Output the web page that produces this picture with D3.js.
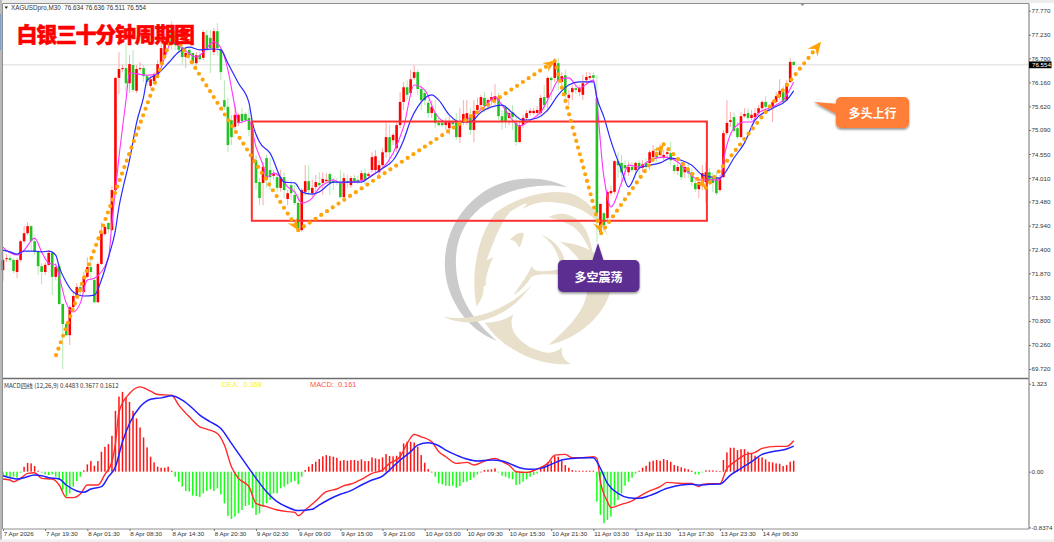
<!DOCTYPE html>
<html lang="zh">
<head>
<meta charset="utf-8">
<style>
html,body{margin:0;padding:0;background:#fff;overflow:hidden}
svg{display:block}
text{font-family:"Liberation Sans",Arial,sans-serif}
.cjk{font-family:"Noto Sans CJK SC","Noto Sans",sans-serif}
</style>
<script src="https://cdn.jsdelivr.net/npm/d3@7/dist/d3.min.js"></script>
</head>
<body>
<svg id="c" width="1054" height="542"></svg>
<script>
const opens=[71.94,72.19,72.21,72.17,71.90,72.17,72.59,72.77,72.93,72.59,
72.35,72.03,71.90,72.06,72.33,71.79,72.03,71.18,70.73,70.48,
71.11,71.34,71.56,71.45,71.79,72.01,71.72,71.22,72.08,72.75,
73.00,72.84,73.74,76.26,76.46,76.48,76.14,76.55,75.97,76.46,
76.48,76.30,76.08,76.19,76.30,76.57,76.75,77.02,77.38,77.22,
77.00,76.95,76.73,76.89,76.82,76.59,76.77,76.71,77.22,77.16,
76.84,77.31,76.89,75.76,75.61,75.31,75.16,75.25,75.45,75.45,
75.36,75.09,74.41,73.92,73.90,74.46,74.19,74.06,74.03,73.79,
74.03,73.54,73.85,73.63,73.45,72.84,73.70,73.94,73.67,73.81,
73.90,73.90,73.94,74.10,73.94,73.94,73.90,73.58,73.94,73.85,
74.01,73.97,73.97,74.12,74.06,74.19,74.19,74.14,74.30,74.59,
74.93,74.86,74.68,75.20,75.72,76.05,75.92,76.26,76.39,76.01,
75.92,75.70,75.47,75.47,75.25,75.25,75.20,75.13,75.29,75.27,
74.93,75.27,75.31,75.43,75.09,75.54,75.65,75.81,75.63,75.76,
75.76,75.83,75.40,75.61,75.36,75.49,75.25,74.82,75.20,75.36,
75.47,75.47,75.47,75.47,75.83,75.81,76.26,76.26,76.59,76.17,
76.32,75.81,75.94,76.03,75.94,75.88,76.21,76.26,76.32,75.81,
72.80,73.22,73.11,73.67,73.70,74.39,74.35,74.30,74.14,74.26,
74.19,74.35,74.24,74.35,74.35,74.48,74.59,74.53,74.46,74.55,
74.57,74.30,74.17,74.30,74.14,74.24,74.14,73.90,73.76,73.92,
73.92,74.14,74.01,74.01,73.74,74.03,75.02,75.27,75.38,75.13,
74.93,75.40,75.47,75.36,75.38,75.47,75.58,75.72,75.63,75.61,
75.72,75.83,75.94,75.76,76.17,76.62];
const closes=[72.17,72.21,72.17,71.92,72.17,72.59,72.77,72.93,72.59,72.35,
72.03,71.90,72.06,72.33,71.79,72.01,71.18,70.73,70.48,71.11,
71.36,71.56,71.47,71.79,72.01,71.90,71.22,72.08,72.77,72.91,
72.86,73.74,76.26,76.46,76.48,76.14,76.57,75.99,76.46,76.48,
76.30,76.17,76.23,76.32,76.57,76.93,77.07,77.29,77.07,77.00,
76.89,76.73,76.82,76.77,76.59,76.77,76.68,77.29,76.91,76.93,
77.31,76.93,76.39,75.61,74.75,74.93,75.43,75.43,75.29,75.31,
75.09,74.41,73.90,73.56,74.26,73.97,74.03,74.10,73.79,74.03,
73.74,73.67,73.67,73.45,72.84,73.74,73.94,73.74,73.79,73.92,
73.85,73.99,73.97,73.90,73.90,73.92,73.58,74.01,73.90,74.01,
73.94,73.92,74.12,73.97,74.10,74.48,74.50,74.30,74.59,74.93,
74.59,74.98,75.20,75.72,76.05,75.88,76.23,76.39,76.01,75.76,
75.76,75.47,75.61,75.25,75.20,75.20,75.27,75.27,75.22,74.93,
75.27,75.45,75.47,75.09,75.52,75.65,75.83,75.63,75.76,75.83,
75.85,75.40,75.27,75.27,75.47,75.38,74.82,75.20,75.36,75.47,
75.52,75.52,75.54,75.81,75.65,76.26,76.21,76.64,76.21,76.30,
75.88,75.88,76.03,75.99,76.03,76.14,76.28,76.30,76.26,73.22,
73.43,72.95,73.70,73.72,74.39,74.30,74.14,74.23,74.26,74.19,
74.35,74.24,74.32,74.26,74.59,74.62,74.46,74.64,74.53,74.59,
74.41,74.17,74.26,74.03,74.26,74.12,73.92,73.76,73.92,74.12,
74.14,73.92,73.90,73.67,74.01,75.02,75.25,75.31,75.07,74.93,
75.40,75.45,75.36,75.43,75.47,75.58,75.72,75.61,75.58,75.72,
75.85,75.97,75.72,76.14,76.62,76.55];
const highs=[72.39,72.30,72.28,72.21,72.21,72.62,72.93,73.02,72.95,72.66,
72.39,72.10,72.12,72.39,72.35,72.10,72.08,71.20,70.75,71.16,
71.43,71.65,71.63,71.90,72.23,72.21,71.76,72.12,73.02,72.95,
73.02,73.83,76.28,76.84,76.55,77.04,76.77,76.89,76.55,76.62,
76.55,76.35,76.30,76.39,76.66,77.11,77.22,77.38,77.54,77.34,
77.07,77.00,76.93,76.93,76.82,76.84,76.84,77.34,77.34,77.34,
77.38,77.49,76.93,76.21,75.81,75.43,75.65,75.47,75.58,75.49,
75.58,75.13,74.53,74.01,74.37,74.53,74.46,74.19,74.14,74.19,
74.14,73.74,73.97,73.85,73.63,73.79,74.30,74.30,73.97,74.08,
74.14,74.14,74.12,74.14,74.01,74.01,74.19,74.12,74.08,74.06,
74.08,74.06,74.19,74.23,74.14,74.59,74.64,74.41,74.68,75.25,
75.22,75.02,75.25,75.94,76.17,76.21,76.44,76.55,76.44,76.10,
75.99,75.76,75.76,75.76,75.36,75.31,75.36,75.40,75.36,75.47,
75.58,75.76,75.76,75.58,75.76,75.81,75.88,75.94,75.81,75.94,
76.12,75.92,75.54,75.65,75.58,75.65,75.43,75.27,75.43,75.54,
75.58,75.58,75.63,75.88,76.10,76.30,76.30,76.71,76.71,76.39,
76.44,75.99,76.10,76.10,76.10,76.32,76.39,76.39,76.39,76.32,
73.43,73.25,73.74,73.83,74.41,74.59,74.53,74.41,74.37,74.37,
74.37,74.41,74.41,74.46,74.64,74.75,74.71,74.77,74.64,74.68,
74.82,74.35,74.37,74.41,74.37,74.35,74.23,73.97,74.01,74.30,
74.37,74.23,74.14,74.14,74.08,75.09,75.76,75.49,75.49,75.27,
75.49,75.58,75.58,75.54,75.58,75.65,75.76,75.85,75.67,75.76,
75.94,76.23,76.08,76.21,76.71,76.64];
const lows=[71.70,72.12,72.12,71.87,71.76,72.12,72.55,72.73,72.39,72.28,
71.83,71.62,71.83,72.03,71.38,71.72,71.16,69.72,70.46,70.26,
71.09,71.31,71.38,71.45,71.76,71.76,71.20,71.20,72.06,72.71,
72.77,72.84,73.72,75.90,76.39,75.92,75.92,75.94,75.92,76.41,
76.17,76.08,76.03,76.14,76.26,76.53,76.75,77.02,76.89,76.89,
76.82,76.55,76.48,76.66,76.55,76.55,76.62,76.66,76.84,76.37,
76.77,76.77,76.21,75.54,74.59,74.75,75.09,75.18,75.22,75.27,
74.95,74.30,73.74,73.40,73.40,73.79,73.74,73.97,73.70,73.70,
73.56,73.40,73.52,73.40,72.80,72.80,73.63,73.63,73.58,73.63,
73.74,73.63,73.90,73.63,73.74,73.85,73.56,73.56,73.79,73.79,
73.90,73.88,73.92,73.88,74.01,74.14,74.14,74.08,74.23,74.46,
74.30,74.75,74.59,75.13,75.54,75.76,75.83,76.21,75.88,75.54,
75.65,75.36,75.36,75.13,75.16,75.16,75.09,74.98,75.13,74.86,
74.80,75.20,75.20,74.98,74.82,75.47,75.54,75.49,75.54,75.65,
75.65,75.31,75.09,75.13,75.20,75.09,74.73,74.80,75.13,75.31,
75.40,75.43,75.43,75.43,75.54,75.49,75.76,76.17,75.99,75.99,
75.70,75.65,75.76,75.90,75.85,75.76,76.10,76.21,76.17,72.57,
72.73,72.80,73.07,73.61,73.65,74.01,73.85,73.97,74.06,74.14,
74.08,74.01,74.14,74.19,74.19,74.41,74.37,74.46,74.41,74.48,
74.30,74.10,74.08,73.97,74.01,74.01,73.83,73.70,73.56,73.74,
73.47,73.85,73.70,73.63,73.70,74.01,74.98,75.16,75.02,74.89,
74.91,75.36,75.31,75.31,75.31,75.40,75.49,75.54,75.49,75.27,
75.67,75.76,75.67,75.72,76.14,76.53];

const maSlowBars=[0,2,4,6,9,11,13,15,16,18,20,23,26,28,30,32,33,34,36,38,40,41,44,47,50,53,56,60,62,64,67,70,71,73,76,80,83,85,88,90,94,97,102,104,108,111,114,116,118,122,124,127,130,133,136,139,142,145,148,152,155,158,161,164,168,169,171,173,176,178,181,184,187,190,193,196,199,202,204,205,208,211,214,219,223,225];
const maSlow=[72.39,72.35,72.30,72.37,72.37,72.35,72.37,72.28,72.01,71.67,71.45,71.36,71.38,71.72,72.23,72.84,73.36,73.74,74.41,75.25,75.83,76.21,76.35,76.59,76.84,76.95,76.89,76.91,76.89,76.59,76.14,75.70,75.25,74.82,74.57,73.92,73.90,73.70,73.65,73.70,73.92,73.92,73.92,74.01,74.23,74.41,74.86,75.31,75.61,75.88,75.76,75.43,75.27,75.27,75.49,75.61,75.65,75.47,75.31,75.36,75.54,75.88,76.10,76.17,76.17,75.81,75.38,74.84,74.19,73.81,74.23,74.30,74.35,74.46,74.41,74.30,74.08,74.03,74.01,74.08,74.46,74.80,75.31,75.58,75.76,75.97];
const maFastBars=[0,2,4,6,9,11,13,15,16,18,20,22,24,26,30,31,33,35,36,41,44,46,48,51,55,57,60,62,64,66,67,70,72,74,75,77,79,81,83,85,88,90,92,94,96,99,103,105,108,111,114,117,120,123,126,130,134,137,140,142,145,147,150,153,156,158,161,164,168,171,173,176,178,181,184,188,192,195,198,201,204,205,208,211,213,215,219,222,225];
const maFast=[72.46,72.33,72.28,72.39,72.66,72.35,72.10,72.06,71.79,71.20,71.00,71.20,71.72,71.76,72.21,73.00,74.48,75.76,76.37,76.32,76.35,76.71,77.07,76.93,76.73,76.84,77.07,76.93,76.44,75.61,75.25,75.31,74.71,74.30,74.03,74.12,74.03,73.81,73.70,73.45,73.56,73.79,73.90,73.97,73.90,73.92,73.97,74.08,74.23,74.57,75.16,76.10,75.99,75.47,75.27,75.27,75.43,75.61,75.83,75.65,75.31,75.18,75.31,75.49,75.92,76.21,76.26,76.03,76.21,74.03,73.36,73.90,74.30,74.26,74.41,74.48,74.37,74.14,73.97,73.97,73.97,74.41,75.13,75.27,75.27,75.47,75.61,75.76,76.17];

const macdHist=[-.075,-.075,-.09,-.075,-.09,-.015,.075,.13,.125,.085,
.015,-.015,-.04,-.05,-.04,-.075,-.125,-.275,-.375,-.325,
-.225,-.14,-.075,.02,.11,.16,.09,.16,.30,.375,
.415,.54,.915,1.13,1.20,1.125,1.05,.915,.80,.665,
.515,.365,.225,.14,.075,.06,.06,.075,.015,-.075,
-.15,-.225,-.29,-.30,-.36,-.365,-.38,-.325,-.29,-.265,
-.29,-.25,-.34,-.475,-.665,-.71,-.675,-.625,-.575,-.515,
-.50,-.55,-.65,-.625,-.525,-.475,-.425,-.325,-.325,-.25,
-.225,-.19,-.16,-.14,-.19,-.075,.025,.075,.115,.15,
.19,.23,.25,.235,.225,.21,.165,.175,.165,
.175,.175,.165,.185,.16,.16,.215,.20,.19,.215,
.265,.235,.23,.24,.30,.425,.45,.45,.44,.375,
.25,.135,.04,0,-.075,-.175,-.19,-.21,-.215,-.21,
-.24,-.215,-.16,-.15,-.125,-.09,-.04,0,.025,.03,
.035,.05,-.005,-.06,-.075,-.10,-.115,-.20,-.19,-.15,
-.115,-.075,-.05,-.025,.04,.075,.14,.165,.235,.225,
.16,.10,.06,.025,.015,.015,.015,.015,.015,.015,
-.45,-.65,-.775,-.725,-.675,-.51,-.425,-.325,-.21,-.15,
-.09,-.025,.015,.06,.09,.15,.165,.175,.165,.19,
.175,.15,.10,.085,.065,.05,.035,.015,-.04,-.04,
-.01,.02,.02,.02,.015,.01,.175,.29,.36,.36,
.325,.34,.34,.30,.275,.24,.215,.215,.185,.15,
.14,.125,.12,.085,.10,.15,.165];

const macdBars=[0,2,3,5,7,9,11,14,16,18,20,22,24,27,29,31,32,33,36,39,42,44,48,50,53,56,58,61,63,65,67,70,72,75,78,81,83,84,86,89,92,95,97,99,102,105,108,110,113,115,117,119,122,124,126,129,132,134,137,140,143,144,146,149,152,155,157,160,162,165,168,169,170,172,173,176,179,181,184,187,189,193,196,198,199,201,204,206,208,211,214,216,220,223,225];
const macdLine=[-.11,-.125,-.15,-.10,-.025,-.015,-.10,-.11,-.20,-.39,-.39,-.335,-.20,-.20,-.04,.15,.425,.90,1.175,1.275,1.21,1.16,1.15,1.00,.825,.675,.64,.575,.40,.075,-.10,-.225,-.475,-.525,-.575,-.60,-.61,-.66,-.575,-.44,-.30,-.26,-.21,-.185,-.115,-.025,.025,.125,.225,.425,.56,.525,.45,.30,.225,.125,.14,.10,.16,.20,.125,.10,0,-.01,.04,.125,.25,.26,.21,.21,.225,.20,-.15,-.45,-.54,-.49,-.44,-.375,-.29,-.225,-.16,-.175,-.175,-.225,-.19,-.18,-.18,.05,.14,.25,.29,.35,.38,.38,.465];
const signalBars=[0,2,4,6,9,11,13,16,18,21,23,25,28,30,32,34,36,39,42,45,48,51,54,56,59,62,65,68,71,75,78,81,84,88,90,93,96,99,102,105,108,110,113,116,118,121,124,126,129,132,135,139,142,144,147,150,153,156,159,162,165,168,170,172,175,178,181,184,189,193,196,198,201,204,207,210,213,216,220,223,225];
const signalLine=[-.06,-.09,-.11,-.09,-.05,-.06,-.09,-.11,-.20,-.29,-.31,-.26,-.225,-.075,.075,.45,.725,.975,1.09,1.11,1.14,1.075,.95,.85,.75,.65,.425,.20,-.025,-.30,-.45,-.535,-.585,-.565,-.50,-.41,-.34,-.285,-.20,-.125,-.065,.025,.175,.30,.40,.435,.39,.325,.25,.19,.16,.175,.16,.125,.06,.035,.05,.11,.175,.20,.21,.21,.05,-.175,-.325,-.39,-.40,-.36,-.25,-.20,-.19,-.20,-.19,-.185,-.05,.05,.15,.26,.31,.34,.385];

const priceTicks=[77.77,77.23,76.70,76.16,75.62,75.09,74.55,74.01,73.48,72.94,72.40,71.87,71.33,70.80,70.26,69.72];
const macdTicks=[1.323,0,-.8374];
const macdTickLabels=["1.323","0.00","-0.8374"];
const timeTickBars=[0,12,24,36,48,60,72,84,96,108,120,132,144,156,168,180,192,204,216];
const timeLabels=["7 Apr 2026","7 Apr 19:30","8 Apr 01:30","8 Apr 08:30","8 Apr 14:30","8 Apr 20:30","9 Apr 02:30","9 Apr 09:00","9 Apr 15:00","9 Apr 21:00","10 Apr 03:00","10 Apr 09:30","10 Apr 15:30","10 Apr 21:30","11 Apr 03:30","13 Apr 11:30","13 Apr 17:30","13 Apr 23:30","14 Apr 06:30"];

const lastPrice=76.554;
const rangeBoxBars=[70.8,200.3];
const rangeBoxPrices=[75.28,73.05];
const trendBars=[15.1,48.4,84,157,170.2,188,200,232.8];
const trendPrices=[70.03,77.27,72.84,76.64,72.77,74.77,73.79,77.07];

const svg=d3.select("#c");
const PL=2.5,PR=1029,PT=3.5,PB=378,MT=379.5,MB=529;
const x=d3.scaleLinear().domain([0,225]).range([3,793.7]);
const y=d3.scaleLinear().domain([69.72,77.77]).range([369,10.7]);
const ym=d3.scaleLinear().domain([-.8374,1.323]).range([527.4,383.7]);

svg.append("rect").attr("width",1054).attr("height",542).attr("fill","#fff");
svg.append("rect").attr("width",1054).attr("height",3).attr("fill","#ececec");
svg.append("rect").attr("width",2).attr("height",542).attr("fill","#b9b9b9");
svg.append("rect").attr("x",0).attr("width",1.2).attr("height",36).attr("y",14).attr("fill","#7f9fc8");
svg.append("rect").attr("y",539.5).attr("width",1054).attr("height",3).attr("fill","#efefef");

/* watermark logo */
const logo=svg.append("g").attr("transform","translate(430,170) scale(.3333)");
logo.append("path").attr("fill","#cbcbcb").attr("d","M412,52 C330,10 210,15 130,90 C40,170 20,300 75,400 C100,450 150,495 200,512 C150,470 100,410 85,340 C65,250 85,170 150,115 C225,55 330,35 412,52 Z");
const beige=logo.append("g").attr("fill","#e9e0cc");
[
"M140,410 C118,300 150,190 195,130 C250,85 340,58 415,68 C480,85 520,150 535,200 C500,140 455,112 395,100 C340,92 320,95 275,118 C310,88 280,100 240,125 C205,170 190,220 170,270 L190,262 C170,300 165,340 168,345 L160,350 C165,370 150,395 140,410 Z",
"M355,142 C395,118 445,135 470,185 C482,215 490,245 488,262 C470,215 450,180 420,165 C400,155 375,145 355,142 Z",
"M40,440 C120,455 220,430 305,345 C262,405 205,448 130,456 C90,459 60,450 40,440 Z",
"M165,458 C215,535 320,590 422,582 C405,572 392,560 396,532 C370,558 335,548 300,532 C262,508 232,478 250,432 C225,452 195,458 165,458 Z",
"M390,215 C470,222 545,265 545,335 C545,405 470,500 355,525 C420,470 478,410 472,340 C468,285 430,240 390,215 Z",
"M335,195 C385,212 418,268 402,312 C380,318 335,305 305,320 C290,342 270,365 250,375 C268,350 292,318 305,288 C312,310 350,305 388,298 C395,260 368,218 335,195 Z",
"M240,210 C255,190 275,183 282,192 C276,212 273,232 266,232 C262,218 252,210 240,210 Z"
].forEach(d=>beige.append("path").attr("d",d));

/* last-price line */
svg.append("line").attr("x1",PL).attr("x2",PR).attr("y1",y(lastPrice)).attr("y2",y(lastPrice)).attr("stroke","#e6e6e6").attr("stroke-width",1.5);

/* candles */
const idx=d3.range(closes.length);
const upC="#ff0000",dnC="#22c422";
const isUp=i=>closes[i]>=opens[i];
svg.append("g").selectAll("line").data(idx).join("line")
 .attr("x1",x).attr("x2",x)
 .attr("y1",i=>y(highs[i])).attr("y2",i=>y(lows[i]))
 .attr("stroke",i=>isUp(i)?"#ffa9a9":"#b4e8b4").attr("stroke-width",1);
svg.append("g").selectAll("rect").data(idx).join("rect")
 .attr("x",i=>x(i)-1.3).attr("width",2.6)
 .attr("y",i=>Math.min(y(opens[i]),y(closes[i])))
 .attr("height",i=>Math.max(1,Math.abs(y(opens[i])-y(closes[i]))))
 .attr("fill",i=>isUp(i)?upC:dnC);

/* moving averages */
const maLine=(bars,vals)=>d3.line().x((d,i)=>x(bars[i])).y(d=>y(d)).curve(d3.curveMonotoneX)(vals);
svg.append("path").attr("d",maLine(maFastBars,maFast)).attr("fill","none").attr("stroke","#ff35ff").attr("stroke-width",1.1);
svg.append("path").attr("d",maLine(maSlowBars,maSlow)).attr("fill","none").attr("stroke","#2a2aff").attr("stroke-width",1.2);

/* range box */
svg.append("rect").attr("x",x(rangeBoxBars[0])).attr("width",x(rangeBoxBars[1])-x(rangeBoxBars[0]))
 .attr("y",y(rangeBoxPrices[0])).attr("height",y(rangeBoxPrices[1])-y(rangeBoxPrices[0]))
 .attr("fill","none").attr("stroke","#ff3030").attr("stroke-width",2);

/* dotted trend arrows */
const orange="#ffa30a";
const trend=svg.append("g");
for(let k=0;k<trendBars.length-1;k++){
  const x1=x(trendBars[k]),y1=y(trendPrices[k]),x2=x(trendBars[k+1]),y2=y(trendPrices[k+1]);
  trend.append("line").attr("x1",x1).attr("y1",y1).attr("x2",x2).attr("y2",y2)
   .attr("stroke",orange).attr("stroke-width",4.2).attr("stroke-linecap","round").attr("stroke-dasharray","0 6.9");
  if(k>0){
    const a=Math.atan2(y2-y1,x2-x1)*180/Math.PI, s=k===6?1.15:.95;
    trend.append("path").attr("d","M0,0 L-12,-5.5 L-8,0 L-12,5.5 Z").attr("fill",orange)
     .attr("transform",`translate(${x2},${y2}) rotate(${a}) scale(${s})`);
  }
}

/* MACD pane */
const base=ym(0);
svg.append("g").selectAll("rect").data(macdHist).join("rect")
 .attr("x",(d,i)=>x(i)-.75).attr("width",1.5)
 .attr("y",d=>d>=0?ym(d):base).attr("height",d=>Math.max(.7,Math.abs(ym(d)-base)))
 .attr("fill",d=>d>=0?"#ff1414":"#14ff14");
const mLine=(bars,vals)=>d3.line().x((d,i)=>x(bars[i])).y(d=>ym(d)).curve(d3.curveMonotoneX)(vals);
svg.append("path").attr("d",mLine(macdBars,macdLine)).attr("fill","none").attr("stroke","#ff2a2a").attr("stroke-width",1.4);
svg.append("path").attr("d",mLine(signalBars,signalLine)).attr("fill","none").attr("stroke","#1f1fff").attr("stroke-width",1.5);

/* pane frames */
const frame=svg.append("g").attr("stroke","#8e8e8e").attr("fill","none");
frame.append("line").attr("x1",PL).attr("x2",PR).attr("y1",PT).attr("y2",PT).attr("stroke-width",1);
frame.append("line").attr("x1",PL).attr("x2",PR).attr("y1",PB+.5).attr("y2",PB+.5).attr("stroke-width",1.6).attr("stroke","#6e6e6e");
frame.append("line").attr("x1",PL).attr("x2",PL).attr("y1",PT).attr("y2",MB).attr("stroke-width",1);
frame.append("line").attr("x1",PL).attr("x2",PR).attr("y1",MB).attr("y2",MB).attr("stroke-width",1);
frame.append("line").attr("x1",PR).attr("x2",PR).attr("y1",PT).attr("y2",MB).attr("stroke-width",1.4).attr("stroke","#9a9a9a");
svg.append("path").attr("d","M800,3.5 L805,3.5 L802.5,6 Z").attr("fill","#8e8e8e");

/* axes */
const styleAxis=g=>{g.select(".domain").remove();g.selectAll("line").attr("stroke","#777");
  g.selectAll("text").attr("fill","#333").style("font-size","6.2px");};
svg.append("g").attr("transform",`translate(${PR},0)`)
 .call(d3.axisRight(y).tickValues(priceTicks).tickFormat(d3.format(".3f")).tickSize(2).tickPadding(.5)).call(styleAxis);
svg.append("g").attr("transform",`translate(${PR},0)`)
 .call(d3.axisRight(ym).tickValues(macdTicks).tickFormat((d,i)=>macdTickLabels[i]).tickSize(2).tickPadding(.5)).call(styleAxis);
const tAxis=svg.append("g").attr("transform",`translate(0,${MB})`)
 .call(d3.axisBottom(x).tickValues(timeTickBars).tickFormat((d,i)=>timeLabels[i]).tickSize(2).tickPadding(1)).call(styleAxis);
tAxis.selectAll("text").attr("text-anchor","start").attr("dx",".3");

/* price tag */
svg.append("rect").attr("x",PR).attr("y",y(lastPrice)-3.4).attr("width",22.5).attr("height",6.8).attr("fill","#000");
svg.append("text").attr("x",PR+3).attr("y",y(lastPrice)+2.2).attr("fill","#fff").style("font-size","6.2px").text(lastPrice.toFixed(3));

/* legends */
svg.append("path").attr("d","M4.5,6.5 L8,6.5 L6.25,9 Z").attr("fill","#222");
svg.append("text").attr("x",11).attr("y",10).attr("fill","#333").style("font-size","6.3px").attr("xml:space","preserve").text("XAGUSDpro,M30  76.634 76.636 76.511 76.554");
svg.append("text").attr("class","cjk").attr("x",4).attr("y",387.5).attr("fill","#333").style("font-size","6.1px").attr("xml:space","preserve").text("MACD四线 (12,26,9) 0.4483 0.3677 0.1612");
svg.append("text").attr("x",222).attr("y",387).attr("fill","#f4f23a").style("font-size","7.4px").attr("xml:space","preserve").text("DEA:  0.368");
svg.append("text").attr("x",310).attr("y",387).attr("fill","#ff5050").style("font-size","7.4px").attr("xml:space","preserve").text("MACD:  0.161");

/* title */
svg.append("text").attr("class","cjk").attr("x",16.5).attr("y",41.5).attr("fill","#ff0000").attr("stroke","#ff0000").attr("stroke-width",.5)
 .style("font-size","21px").style("letter-spacing","-1.3px").style("font-weight","900").text("白银三十分钟周期图");

/* callouts */
const defs=svg.append("defs");
const f=defs.append("filter").attr("id","sh").attr("x","-20%").attr("y","-20%").attr("width","140%").attr("height","150%");
f.append("feDropShadow").attr("dx",0).attr("dy",1.5).attr("stdDeviation",1.2).attr("flood-color","#000").attr("flood-opacity",.45);
const o=svg.append("g").attr("filter","url(#sh)");
o.append("path").attr("fill","#ff7f38").attr("d","M814,102 L840,104 L840,116 Z");
o.append("rect").attr("x",836).attr("y",97).attr("width",73).attr("height",31).attr("rx",5).attr("fill","#ff7f38");
svg.append("text").attr("class","cjk").attr("x",872.5).attr("y",117.5).attr("text-anchor","middle").attr("fill","#fff")
 .style("font-size","12px").style("font-weight","700").text("多头上行");
const p=svg.append("g").attr("filter","url(#sh)");
p.append("path").attr("fill","#5b2d91").attr("d","M598,243 L604,262 L592,262 Z");
p.append("rect").attr("x",558).attr("y",260).attr("width",81.5).attr("height",32).attr("rx",5).attr("fill","#5b2d91");
svg.append("text").attr("class","cjk").attr("x",598.5).attr("y",281.5).attr("text-anchor","middle").attr("fill","#fff")
 .style("font-size","12px").style("font-weight","700").text("多空震荡");
</script>
</body>
</html>
